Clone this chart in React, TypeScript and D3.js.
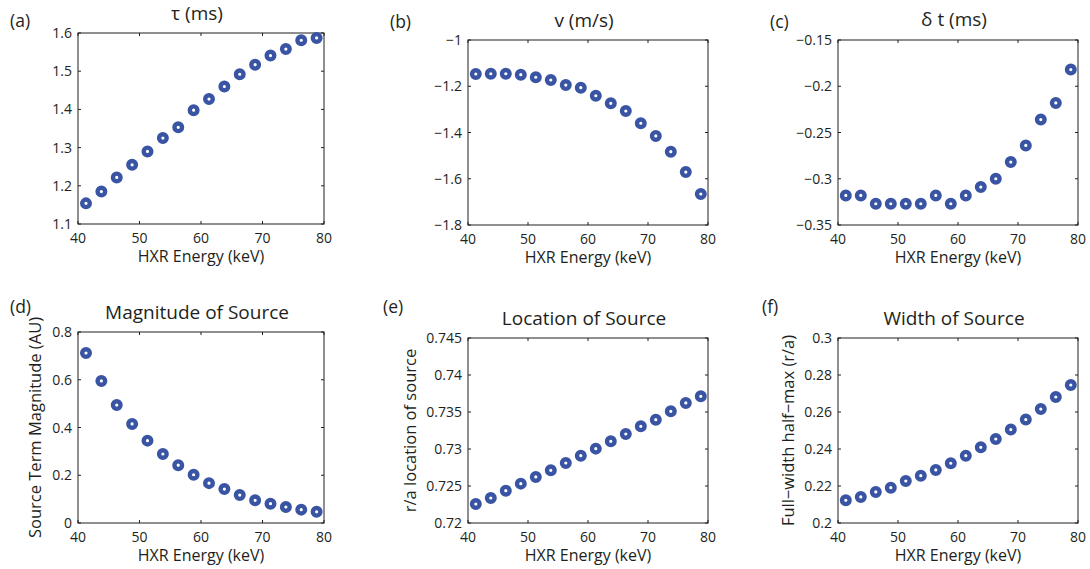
import React, { useEffect, useRef } from 'react';
import * as d3 from 'd3';

// HXR energy bins (keV)
const energy = [41.3, 43.8, 46.3, 48.8, 51.3, 53.8, 56.3, 58.8, 61.3, 63.8, 66.3, 68.8, 71.3, 73.8, 76.3, 78.8];

const tau = [1.154, 1.185, 1.222, 1.255, 1.29, 1.325, 1.353, 1.398, 1.427, 1.46, 1.492, 1.517, 1.541, 1.558, 1.581, 1.587];
const velocity = [-1.147, -1.146, -1.146, -1.15, -1.161, -1.173, -1.195, -1.206, -1.241, -1.274, -1.307, -1.36, -1.415, -1.483, -1.571, -1.666];
const deltaT = [-0.318, -0.318, -0.327, -0.327, -0.327, -0.327, -0.318, -0.327, -0.318, -0.309, -0.3, -0.282, -0.264, -0.236, -0.218, -0.182];
const magnitude = [0.712, 0.595, 0.494, 0.415, 0.345, 0.289, 0.242, 0.202, 0.167, 0.142, 0.117, 0.095, 0.081, 0.067, 0.056, 0.047];
const location = [0.72257, 0.72338, 0.72437, 0.72532, 0.72622, 0.72712, 0.72811, 0.7291, 0.73005, 0.73104, 0.73203, 0.73306, 0.73396, 0.73509, 0.73622, 0.73712];
const width = [0.2123, 0.2141, 0.2168, 0.2191, 0.2227, 0.2256, 0.2287, 0.2323, 0.2364, 0.2409, 0.2454, 0.2505, 0.2559, 0.2616, 0.2681, 0.2746];

const xTicks = [40, 50, 60, 70, 80];
const tauTicks = [1.1, 1.2, 1.3, 1.4, 1.5, 1.6];
const velTicks = [-1.8, -1.6, -1.4, -1.2, -1];
const dtTicks = [-0.35, -0.3, -0.25, -0.2, -0.15];
const magTicks = [0, 0.2, 0.4, 0.6, 0.8];
const locTicks = [0.72, 0.725, 0.73, 0.735, 0.74, 0.745];
const widthTicks = [0.2, 0.22, 0.24, 0.26, 0.28, 0.3];

const panels = [
  { tag: '(a)', title: 'τ (ms)', ylabel: '', values: tau, ticks: tauTicks,
    box: [78, 324, 33, 224], tagPos: [10, 27], titleY: 20, ylabelX: 0 },
  { tag: '(b)', title: 'v (m/s)', ylabel: '', values: velocity, ticks: velTicks,
    box: [468, 708, 40, 225], tagPos: [390, 28], titleY: 27, ylabelX: 0 },
  { tag: '(c)', title: 'δ t (ms)', ylabel: '', values: deltaT, ticks: dtTicks,
    box: [838, 1078, 40, 225], tagPos: [770, 28], titleY: 26, ylabelX: 0 },
  { tag: '(d)', title: 'Magnitude of Source', ylabel: 'Source Term Magnitude (AU)', values: magnitude, ticks: magTicks,
    box: [78, 324, 332, 523], tagPos: [10, 313], titleY: 319, ylabelX: 35 },
  { tag: '(e)', title: 'Location of Source', ylabel: 'r/a location of source', values: location, ticks: locTicks,
    box: [468, 708, 338, 523], tagPos: [383, 313], titleY: 325, ylabelX: 410 },
  { tag: '(f)', title: 'Width of Source', ylabel: 'Full\u2212width half\u2212max (r/a)', values: width, ticks: widthTicks,
    box: [838, 1078, 338, 523], tagPos: [762, 313], titleY: 325, ylabelX: 788 },
];

const ink = '#231f20';
const dot = '#3a54a4';
const fmt = d3.format('~g');

function App() {
  const ref = useRef(null);

  useEffect(() => {
    const svg = d3.select(ref.current);
    svg.selectAll('*').remove();

    panels.forEach(p => {
      const [x0, x1, y0, y1] = p.box;
      const x = d3.scaleLinear().domain([40, 80]).range([x0, x1]);
      const y = d3.scaleLinear().domain(d3.extent(p.ticks)).range([y1, y0]);
      const g = svg.append('g').attr('font-family', '"Open Sans", sans-serif').attr('fill', ink);

      // ticks on all four sides, pointing in
      g.selectAll('.xt')
        .data(xTicks)
        .join('path')
          .attr('stroke', ink)
          .attr('d', d => `M${x(d)},${y1}v-3M${x(d)},${y0}v3`);
      g.selectAll('.yt')
        .data(p.ticks)
        .join('path')
          .attr('stroke', ink)
          .attr('d', d => `M${x0},${y(d)}h3M${x1},${y(d)}h-3`);

      g.append('rect')
        .attr('x', x0).attr('y', y0)
        .attr('width', x1 - x0).attr('height', y1 - y0)
        .attr('fill', 'none').attr('stroke', ink).attr('stroke-width', 1);

      g.selectAll('.xl')
        .data(xTicks)
        .join('text')
          .attr('x', d => x(d))
          .attr('y', y1 + 19)
          .attr('text-anchor', 'middle')
          .attr('font-size', 14)
          .text(d => d);

      g.selectAll('.yl')
        .data(p.ticks)
        .join('text')
          .attr('x', x0 - 6)
          .attr('y', d => y(d) + 5)
          .attr('text-anchor', 'end')
          .attr('font-size', 14)
          .text(d => fmt(d));

      g.append('text')
        .attr('x', (x0 + x1) / 2)
        .attr('y', y1 + 38)
        .attr('text-anchor', 'middle')
        .attr('font-size', 16)
        .text('HXR Energy (keV)');

      g.append('text')
        .attr('x', (x0 + x1) / 2 - 4)
        .attr('y', p.titleY)
        .attr('text-anchor', 'middle')
        .attr('font-size', 19)
        .text(p.title);

      g.append('text')
        .attr('x', p.tagPos[0])
        .attr('y', p.tagPos[1])
        .attr('font-size', 17.5)
        .text(p.tag);

      if (p.ylabel) {
        g.append('text')
          .attr('transform', `translate(${p.ylabelX + 6},${(y0 + y1) / 2}) rotate(-90)`)
          .attr('text-anchor', 'middle')
          .attr('font-size', 16.5)
          .text(p.ylabel);
      }

      g.selectAll('circle')
        .data(energy.map((e, i) => [e, p.values[i]]))
        .join('circle')
          .attr('cx', d => x(d[0]))
          .attr('cy', d => y(d[1]))
          .attr('r', 3.8)
          .attr('fill', 'white')
          .attr('stroke', dot)
          .attr('stroke-width', 4.4);
    });
  }, []);

  return <svg ref={ref} width={1090} height={569} style={{ position: 'absolute', left: 0, top: 0, background: 'white' }} />;
}

export default App;
